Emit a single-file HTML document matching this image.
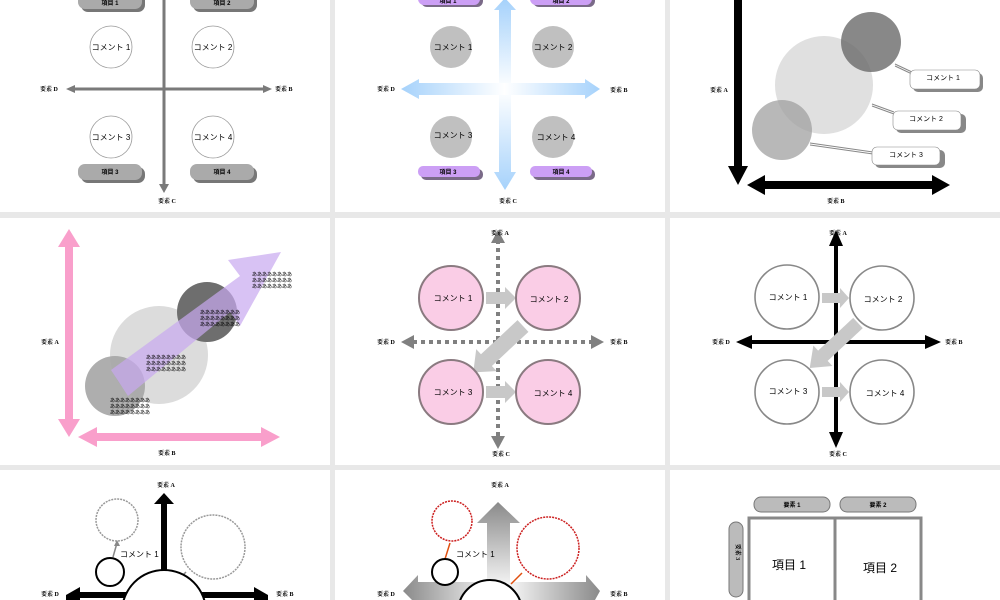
<!DOCTYPE html>
<html><head><meta charset="utf-8"><style>
html,body{margin:0;padding:0;background:#e8e8e8;width:1000px;height:600px;overflow:hidden;}
svg{display:block;}
text{font-family:"Liberation Sans","Noto Sans CJK JP",sans-serif;}
.lb{font-family:"Liberation Serif","Noto Serif CJK SC",serif;font-size:6px;font-weight:bold;}
.cm{font-size:8px;}
.a{font-size:5px;font-family:"Liberation Serif","Noto Sans CJK JP",serif;}
</style></head><body>
<svg width="1000" height="600" viewBox="0 0 1000 600" xmlns="http://www.w3.org/2000/svg">
<defs>
<linearGradient id="bv" gradientUnits="userSpaceOnUse" x1="0" y1="0" x2="0" y2="190"><stop offset="0" stop-color="#a6d2fb"/><stop offset="0.47" stop-color="#fff"/><stop offset="1" stop-color="#a6d2fb"/></linearGradient>
<linearGradient id="bh" gradientUnits="userSpaceOnUse" x1="401" y1="0" x2="600" y2="0"><stop offset="0" stop-color="#a6d2fb"/><stop offset="0.52" stop-color="#fff"/><stop offset="1" stop-color="#a6d2fb"/></linearGradient>
<linearGradient id="gv" gradientUnits="userSpaceOnUse" x1="0" y1="502" x2="0" y2="585"><stop offset="0" stop-color="#8a8a8a"/><stop offset="1" stop-color="#f4f4f4"/></linearGradient>
<linearGradient id="gh" gradientUnits="userSpaceOnUse" x1="403" y1="0" x2="600" y2="0"><stop offset="0" stop-color="#8a8a8a"/><stop offset="0.45" stop-color="#f4f4f4"/><stop offset="0.55" stop-color="#f4f4f4"/><stop offset="1" stop-color="#8a8a8a"/></linearGradient>
</defs>
<rect width="1000" height="600" fill="#e8e8e8"/>
<rect x="0" y="0" width="330" height="212" fill="#fff"/>
<rect x="335" y="0" width="330" height="212" fill="#fff"/>
<rect x="670" y="0" width="330" height="212" fill="#fff"/>
<rect x="0" y="218" width="330" height="247" fill="#fff"/>
<rect x="335" y="218" width="330" height="247" fill="#fff"/>
<rect x="670" y="218" width="330" height="247" fill="#fff"/>
<rect x="0" y="470" width="330" height="130" fill="#fff"/>
<rect x="335" y="470" width="330" height="130" fill="#fff"/>
<rect x="670" y="470" width="330" height="130" fill="#fff"/>

<!-- P1 -->
<g>
<line x1="164" y1="0" x2="164" y2="185" stroke="#7a7a7a" stroke-width="3"/>
<polygon points="159,184 169,184 164,193" fill="#7a7a7a"/>
<line x1="74" y1="89" x2="264" y2="89" stroke="#7a7a7a" stroke-width="3"/>
<polygon points="66,89 75,85 75,93" fill="#7a7a7a"/>
<polygon points="272,89 263,85 263,93" fill="#7a7a7a"/>
<text class="lb" x="40" y="91">要素 D</text><text class="lb" x="275" y="91">要素 B</text><text class="lb" x="158" y="203">要素 C</text>
<g fill="#fff" stroke="#999" stroke-width="0.8">
<circle cx="111" cy="47" r="21"/><circle cx="213" cy="47" r="21"/><circle cx="111" cy="137" r="21"/><circle cx="213" cy="137" r="21"/></g>
<g class="cm" text-anchor="middle"><text x="111" y="50">コメント 1</text><text x="213" y="50">コメント 2</text><text x="111" y="140">コメント 3</text><text x="213" y="140">コメント 4</text></g>
<g fill="#777"><rect x="81" y="-8" width="64" height="20" rx="7"/><rect x="193" y="-8" width="64" height="20" rx="7"/><rect x="81" y="167" width="64" height="16" rx="7"/><rect x="193" y="167" width="64" height="16" rx="7"/></g>
<g fill="#aaa"><rect x="78" y="-10" width="64" height="19" rx="7"/><rect x="190" y="-10" width="64" height="19" rx="7"/><rect x="78" y="164" width="64" height="16" rx="7"/><rect x="190" y="164" width="64" height="16" rx="7"/></g>
<g class="lb" text-anchor="middle"><text x="110" y="5">項目 1</text><text x="222" y="5">項目 2</text><text x="110" y="174">項目 3</text><text x="222" y="174">項目 4</text></g>
</g>

<!-- P2 -->
<g>
<path d="M499,10 L494,10 L505,-2 L516,10 L511,10 L511,172 L516,172 L505,190 L494,172 L499,172 Z" fill="url(#bv)"/>
<path d="M419,83 L419,79 L401,89 L419,99 L419,95 L585,95 L585,99 L600,89 L585,79 L585,83 Z" fill="url(#bh)"/>
<text class="lb" x="377" y="91">要素 D</text><text class="lb" x="610" y="92">要素 B</text><text class="lb" x="499" y="203">要素 C</text>
<g fill="#c0c0c0"><circle cx="451" cy="47" r="21"/><circle cx="553" cy="47" r="21"/><circle cx="451" cy="137" r="21"/><circle cx="553" cy="137" r="21"/></g>
<g class="cm" text-anchor="middle"><text x="453" y="50">コメント 1</text><text x="553" y="50">コメント 2</text><text x="453" y="138">コメント 3</text><text x="556" y="140">コメント 4</text></g>
<g fill="#7a6a88"><rect x="421" y="-6" width="62" height="13" rx="6"/><rect x="533" y="-6" width="62" height="13" rx="6"/><rect x="421" y="169" width="62" height="11" rx="5"/><rect x="533" y="169" width="62" height="11" rx="5"/></g>
<g fill="#cc9ff5"><rect x="418" y="-8" width="62" height="13" rx="6"/><rect x="530" y="-8" width="62" height="13" rx="6"/><rect x="418" y="166" width="62" height="11" rx="5"/><rect x="530" y="166" width="62" height="11" rx="5"/></g>
<g class="lb" text-anchor="middle"><text x="448" y="3">項目 1</text><text x="561" y="3">項目 2</text><text x="448" y="174">項目 3</text><text x="561" y="174">項目 4</text></g>
</g>

<!-- P3 -->
<g>
<rect x="734" y="0" width="8" height="168" fill="#000"/>
<polygon points="728,166 748,166 738,185" fill="#000"/>
<rect x="760" y="181" width="176" height="8" fill="#000"/>
<polygon points="747,185 765,175 765,195" fill="#000"/>
<polygon points="950,185 932,175 932,195" fill="#000"/>
<text class="lb" x="710" y="92">要素 A</text><text class="lb" x="827" y="203">要素 B</text>
<circle cx="824" cy="85" r="49" fill="#e0e0e0"/>
<circle cx="871" cy="42" r="30" fill="#6a6a6a" fill-opacity="0.8"/>
<circle cx="782" cy="130" r="30" fill="#a0a0a0" fill-opacity="0.75"/>
<g stroke="#888" stroke-width="1" fill="none">
<path d="M895,64 L912,72 M895,66 L912,74"/><path d="M872,104 L894,112 M872,106 L894,114"/><path d="M810,143 L873,152 M810,145 L873,154"/></g>
<g fill="#888"><rect x="913" y="73" width="70" height="19" rx="5"/><rect x="896" y="114" width="70" height="19" rx="5"/><rect x="875" y="150" width="70" height="18" rx="5"/></g>
<g fill="#fff" stroke="#888" stroke-width="0.6"><rect x="910" y="70" width="70" height="19" rx="5"/><rect x="893" y="111" width="68" height="19" rx="5"/><rect x="872" y="147" width="68" height="18" rx="5"/></g>
<g text-anchor="middle" style="font-size:7px"><text x="943" y="80">コメント 1</text><text x="926" y="121">コメント 2</text><text x="906" y="157">コメント 3</text></g>
</g>

<!-- P4 -->
<g>
<rect x="65" y="245" width="8" height="176" fill="#f99fcb"/>
<polygon points="69,229 58,247 80,247" fill="#f99fcb"/>
<polygon points="69,437 58,419 80,419" fill="#f99fcb"/>
<rect x="94" y="433" width="170" height="8" fill="#f99fcb"/>
<polygon points="78,437 97,427 97,447" fill="#f99fcb"/>
<polygon points="280,437 261,427 261,447" fill="#f99fcb"/>
<text class="lb" x="41" y="344">要素 A</text><text class="lb" x="158" y="455">要素 B</text>
<circle cx="159" cy="355" r="49" fill="#dcdcdc"/>
<circle cx="207" cy="312" r="30" fill="#6e6e6e"/>
<circle cx="115" cy="386" r="30" fill="#a5a5a5" fill-opacity="0.9"/>
<polygon points="111,370 128,396 230,312 240,326 281,252 228,260 240,276" fill="#c8a8f0" fill-opacity="0.7"/>
<g class="a"><text x="252" y="276">ああああああああ</text><text x="252" y="282">ああああああああ</text><text x="252" y="288">ああああああああ</text>
<text x="200" y="314">ああああああああ</text><text x="200" y="320">ああああああああ</text><text x="200" y="326">ああああああああ</text>
<text x="146" y="359">ああああああああ</text><text x="146" y="365">ああああああああ</text><text x="146" y="371">ああああああああ</text>
<text x="110" y="402">ああああああああ</text><text x="110" y="408">ああああああああ</text><text x="110" y="414">ああああああああ</text></g>
</g>

<!-- P5 -->
<g>
<line x1="498" y1="240" x2="498" y2="440" stroke="#808080" stroke-width="4" stroke-dasharray="4,4"/>
<polygon points="498,230 491,243 505,243" fill="#808080"/>
<polygon points="498,449 491,436 505,436" fill="#808080"/>
<line x1="413" y1="342" x2="592" y2="342" stroke="#808080" stroke-width="4" stroke-dasharray="4,4"/>
<polygon points="401,342 414,335 414,349" fill="#808080"/>
<polygon points="604,342 591,335 591,349" fill="#808080"/>
<text class="lb" x="491" y="235">要素 A</text><text class="lb" x="377" y="344">要素 D</text><text class="lb" x="610" y="344">要素 B</text><text class="lb" x="492" y="456">要素 C</text>
<g fill="#c8c8c8"><polygon points="486,292 505,292 505,287 516,298 505,309 505,304 486,304"/>
<polygon points="486,386 505,386 505,381 516,392 505,403 505,398 486,398"/>
<g transform="translate(523,326) rotate(137)"><polygon points="0,-8 50,-8 50,-15 68,0 50,15 50,8 0,8"/></g></g>
<g fill="#facde6" stroke="#8a7a80" stroke-width="2"><circle cx="451" cy="298" r="32"/><circle cx="548" cy="298" r="32"/><circle cx="451" cy="392" r="32"/><circle cx="548" cy="392" r="32"/></g>
<g class="cm" text-anchor="middle"><text x="453" y="301">コメント 1</text><text x="549" y="302">コメント 2</text><text x="453" y="395">コメント 3</text><text x="553" y="396">コメント 4</text></g>
</g>

<!-- P6 -->
<g>
<rect x="834" y="244" width="4" height="190" fill="#000"/>
<polygon points="836,230 829,246 843,246" fill="#000"/>
<polygon points="836,448 829,432 843,432" fill="#000"/>
<rect x="750" y="340" width="180" height="4" fill="#000"/>
<polygon points="736,342 752,335 752,349" fill="#000"/>
<polygon points="941,342 925,335 925,349" fill="#000"/>
<text class="lb" x="829" y="235">要素 A</text><text class="lb" x="712" y="344">要素 D</text><text class="lb" x="945" y="344">要素 B</text><text class="lb" x="829" y="456">要素 C</text>
<g fill="#c8c8c8"><polygon points="822,293 840,293 840,288 849,298 840,308 840,303 822,303"/>
<polygon points="822,387 840,387 840,382 849,392 840,402 840,397 822,397"/>
<g transform="translate(858,323) rotate(137)"><polygon points="0,-7 48,-7 48,-14 66,0 48,14 48,7 0,7"/></g></g>
<g fill="#fff" stroke="#888" stroke-width="1.6"><circle cx="787" cy="297" r="32"/><circle cx="882" cy="298" r="32"/><circle cx="787" cy="392" r="32"/><circle cx="882" cy="392" r="32"/></g>
<g class="cm" text-anchor="middle"><text x="788" y="300">コメント 1</text><text x="883" y="302">コメント 2</text><text x="788" y="394">コメント 3</text><text x="885" y="396">コメント 4</text></g>
</g>

<!-- P7 -->
<g>
<rect x="161" y="502" width="6" height="98" fill="#000"/>
<polygon points="164,493 154,504 174,504" fill="#000"/>
<rect x="75" y="592" width="180" height="6" fill="#000"/>
<polygon points="66,595 80,587 80,600 66,600" fill="#000"/>
<polygon points="268,595 254,587 254,600 268,600" fill="#000"/>
<text class="lb" x="157" y="487">要素 A</text><text class="lb" x="41" y="596">要素 D</text><text class="lb" x="276" y="596">要素 B</text>
<g fill="none" stroke="#999" stroke-width="1.5" stroke-dasharray="2,1"><circle cx="117" cy="520" r="21"/><circle cx="213" cy="547" r="32"/></g>
<g stroke="#888" stroke-width="1.5"><line x1="113" y1="557" x2="117" y2="543"/><line x1="176" y1="582" x2="186" y2="572"/></g>
<polygon points="117,540 114,546 120,546" fill="#888"/>
<circle cx="110" cy="572" r="14" fill="#fff" stroke="#000" stroke-width="2"/>
<circle cx="164" cy="612" r="42" fill="#fff" stroke="#000" stroke-width="2"/>
<text class="cm" x="120" y="557">コメント 1</text>
</g>

<!-- P8 -->
<g>
<path d="M487,523 L477,523 L498,502 L520,523 L510,523 L510,582 L487,582 Z" fill="url(#gv)"/>
<path d="M418,582 L418,575 L403,591 L412,600 L595,600 L600,591 L586,575 L586,582 Z" fill="url(#gh)"/>
<text class="lb" x="491" y="487">要素 A</text><text class="lb" x="377" y="596">要素 D</text><text class="lb" x="610" y="596">要素 B</text>
<g fill="none" stroke="#cc2020" stroke-width="1.5" stroke-dasharray="2,1"><circle cx="452" cy="521" r="20"/><circle cx="548" cy="548" r="31"/></g>
<g stroke="#e05010" stroke-width="1.5"><line x1="445" y1="559" x2="450" y2="543"/><line x1="511" y1="584" x2="522" y2="573"/></g>
<circle cx="445" cy="572" r="13" fill="#fff" stroke="#000" stroke-width="2"/>
<circle cx="490" cy="612" r="32" fill="#fff" stroke="#000" stroke-width="2"/>
<text class="cm" x="456" y="557">コメント 1</text>
</g>

<!-- P9 -->
<g>
<g fill="#bbb" stroke="#777" stroke-width="1"><rect x="754" y="497" width="76" height="15" rx="7"/><rect x="840" y="497" width="76" height="15" rx="7"/><rect x="729" y="522" width="14" height="75" rx="7"/></g>
<g class="lb" text-anchor="middle"><text x="792" y="507">要素 1</text><text x="878" y="507">要素 2</text></g>
<text class="lb" x="736" y="552" transform="rotate(90 736 552)" text-anchor="middle">要素 3</text>
<path d="M749,600 L749,518 L921,518 L921,600" fill="#fff" stroke="#888" stroke-width="3"/>
<line x1="835" y1="518" x2="835" y2="600" stroke="#888" stroke-width="3"/>
<text x="789" y="569" font-size="12" text-anchor="middle">項目 1</text>
<text x="880" y="572" font-size="12" text-anchor="middle">項目 2</text>
</g>
</svg>
</body></html>
